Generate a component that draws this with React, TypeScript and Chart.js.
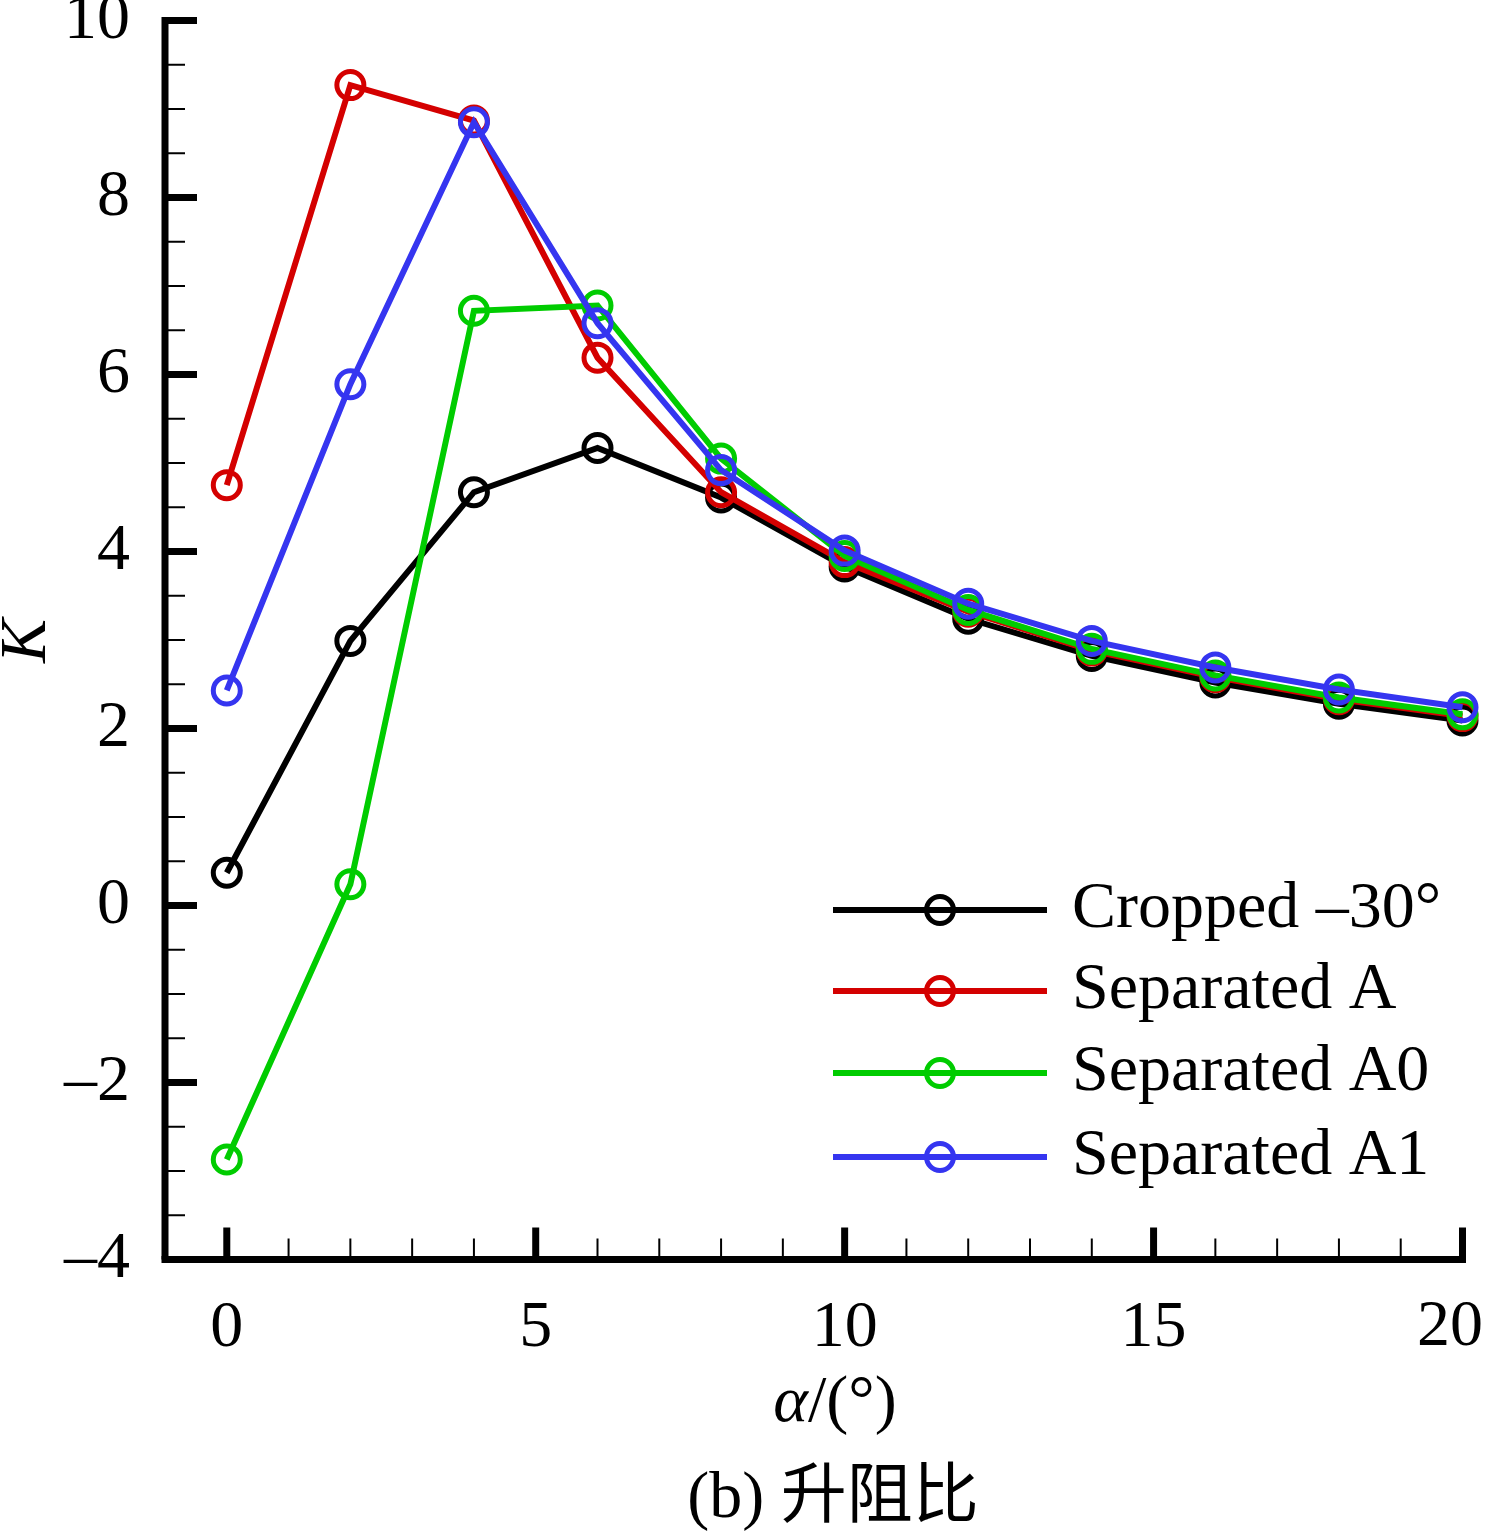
import React, { useEffect, useRef } from 'react';
import { Chart, registerables } from 'chart.js';

Chart.register(...registerables);

// angle of attack (deg)
const alpha = [0, 2, 4, 6, 8, 10, 12, 14, 16, 18, 20];

// lift-to-drag ratio K for each configuration
const croppedK = [0.37, 2.99, 4.67, 5.17, 4.61, 3.83, 3.24, 2.82, 2.52, 2.28, 2.09];
const separatedA = [4.75, 9.27, 8.87, 6.19, 4.67, 3.88, 3.32, 2.88, 2.58, 2.33, 2.14];
const separatedA0 = [-2.87, 0.24, 6.72, 6.78, 5.05, 3.95, 3.34, 2.9, 2.6, 2.35, 2.16];
const separatedA1 = [2.43, 5.89, 8.85, 6.58, 4.92, 4.01, 3.41, 2.99, 2.69, 2.44, 2.24];

const seriesNames = ['Cropped \u201330\u00b0', 'Separated A', 'Separated A0', 'Separated A1'];
const seriesColors = ['#000000', '#d40000', '#00cc00', '#3535f0'];

const xMajorTicks = [0, 5, 10, 15, 20];
const yMajorTicks = [-4, -2, 0, 2, 4, 6, 8, 10];
const xMinorStep = 1;
const yMinorStep = 0.5;

const SERIF = '"Liberation Serif", "Times New Roman", serif';
const FONT_SIZE = 66;

const fmt = (v: number) => (v < 0 ? '\u2013' + Math.abs(v) : String(v));
const lastX = xMajorTicks[xMajorTicks.length - 1];

// axis lines and inward ticks
const axesPlugin = {
  id: 'axesPlugin',
  afterDraw(chart: any) {
    const { ctx, chartArea: a } = chart;
    const xs = chart.scales.x;
    const ys = chart.scales.y;
    const seg = (x1: number, y1: number, x2: number, y2: number) => {
      ctx.beginPath();
      ctx.moveTo(x1, y1);
      ctx.lineTo(x2, y2);
      ctx.stroke();
    };
    ctx.save();
    ctx.strokeStyle = '#000';
    ctx.lineCap = 'butt';

    ctx.lineWidth = 2;
    for (let v = Math.ceil(xs.min); v <= xs.max; v += xMinorStep) {
      if (v === xs.min || xMajorTicks.includes(v)) continue;
      const px = xs.getPixelForValue(v);
      seg(px, a.bottom, px, a.bottom - 21);
    }
    for (let v = ys.min; v <= ys.max + 1e-9; v += yMinorStep) {
      if (yMajorTicks.includes(v)) continue;
      const py = ys.getPixelForValue(v);
      seg(a.left, py, a.left + 20, py);
    }

    ctx.lineWidth = 7;
    xMajorTicks.forEach((v) => {
      const px = xs.getPixelForValue(v);
      seg(px, a.bottom, px, a.bottom - 32);
    });
    yMajorTicks.forEach((v) => {
      const py = ys.getPixelForValue(v);
      seg(a.left, py, a.left + 32, py);
    });

    seg(a.left, a.top - 3.5, a.left, a.bottom);
    seg(a.left - 3.5, a.bottom, a.right + 3.5, a.bottom);

    // last x label, kept inside the canvas
    ctx.fillStyle = '#000';
    ctx.font = `${FONT_SIZE}px ${SERIF}`;
    ctx.textAlign = 'right';
    ctx.textBaseline = 'top';
    const lbl = fmt(lastX);
    const w = ctx.measureText(lbl).width;
    const px = Math.min(xs.getPixelForValue(lastX) + w / 2, chart.width - 2);
    ctx.fillText(lbl, px, a.bottom + 35);
    ctx.restore();
  },
};

// axis titles, caption and legend
const textPlugin = {
  id: 'textPlugin',
  afterDraw(chart: any) {
    const { ctx } = chart;
    ctx.save();
    ctx.fillStyle = '#000';

    // K (rotated)
    ctx.save();
    ctx.translate(45, 641);
    ctx.rotate(-Math.PI / 2);
    ctx.font = `italic ${FONT_SIZE}px ${SERIF}`;
    ctx.textAlign = 'center';
    ctx.textBaseline = 'alphabetic';
    ctx.fillText('K', 0, 0);
    ctx.restore();

    // alpha/(deg)
    ctx.textBaseline = 'alphabetic';
    ctx.textAlign = 'left';
    ctx.font = `italic ${FONT_SIZE}px ${SERIF}`;
    const wa = ctx.measureText('\u03b1').width;
    ctx.font = `${FONT_SIZE}px ${SERIF}`;
    const rest = '/(\u00b0)';
    const wr = ctx.measureText(rest).width;
    const x0 = 835 - (wa + wr) / 2;
    ctx.font = `italic ${FONT_SIZE}px ${SERIF}`;
    ctx.fillText('\u03b1', x0, 1421);
    ctx.font = `${FONT_SIZE}px ${SERIF}`;
    ctx.fillText(rest, x0 + wa, 1421);

    // caption
    ctx.font = `${FONT_SIZE}px "Liberation Serif", "Noto Sans CJK SC", serif`;
    ctx.textAlign = 'center';
    ctx.fillText('(b) \u5347\u963b\u6bd4', 833, 1517);

    // legend
    const legendY = [910, 991, 1073, 1157];
    seriesNames.forEach((name, i) => {
      const y = legendY[i];
      ctx.strokeStyle = seriesColors[i];
      ctx.lineWidth = 6;
      ctx.beginPath();
      ctx.moveTo(833, y);
      ctx.lineTo(1047, y);
      ctx.stroke();
      ctx.lineWidth = 5;
      ctx.beginPath();
      ctx.arc(940, y, 13.5, 0, Math.PI * 2);
      ctx.stroke();
      ctx.fillStyle = '#000';
      ctx.font = `${FONT_SIZE}px ${SERIF}`;
      ctx.textAlign = 'left';
      ctx.textBaseline = 'middle';
      ctx.fillText(name, 1072, y);
    });
    ctx.restore();
  },
};

const App: React.FC = () => {
  const chartRef = useRef<HTMLCanvasElement | null>(null);

  useEffect(() => {
    if (!chartRef.current) return;
    const ctx = chartRef.current.getContext('2d');
    const series = [croppedK, separatedA, separatedA0, separatedA1];

    const chartInstance = new Chart(ctx as any, {
      type: 'line',
      data: {
        datasets: series.map((vals, i) => ({
          label: seriesNames[i],
          data: alpha.map((a, j) => ({ x: a, y: vals[j] })),
          borderColor: seriesColors[i],
          borderWidth: 6,
          pointBorderColor: seriesColors[i],
          pointBackgroundColor: 'rgba(0,0,0,0)',
          pointRadius: 13.5,
          pointBorderWidth: 5,
          pointHoverRadius: 13.5,
          tension: 0,
          clip: false,
          order: series.length - i,
        })),
      },
      options: {
        animation: false,
        responsive: false,
        layout: { padding: { left: 0, top: 20.5, right: 22.5, bottom: 0 } },
        plugins: {
          legend: { display: false },
          tooltip: { enabled: false },
        },
        scales: {
          x: {
            type: 'linear',
            min: -1,
            max: 20,
            grid: { display: false, drawTicks: false },
            border: { display: false },
            ticks: {
              color: '#000',
              font: { family: SERIF, size: FONT_SIZE },
              padding: 30,
              maxRotation: 0,
              autoSkip: false,
              // the last label is drawn by axesPlugin so it stays on the canvas
              callback: (v: any) => (Number(v) === lastX ? '' : fmt(Number(v))),
            },
            afterBuildTicks: (s: any) => {
              s.ticks = xMajorTicks.map((v) => ({ value: v }));
            },
            afterFit: (s: any) => {
              s.height = 272.5;
              s.paddingLeft = 0;
              s.paddingRight = 0;
            },
          },
          y: {
            type: 'linear',
            min: -4,
            max: 10,
            grid: { display: false, drawTicks: false },
            border: { display: false },
            ticks: {
              color: '#000',
              font: { family: SERIF, size: FONT_SIZE },
              padding: 35,
              autoSkip: false,
              callback: (v: any) => fmt(Number(v)),
            },
            afterBuildTicks: (s: any) => {
              s.ticks = yMajorTicks.map((v) => ({ value: v }));
            },
            afterFit: (s: any) => {
              s.width = 165;
              s.paddingTop = 0;
              s.paddingBottom = 0;
            },
          },
        },
      } as any,
      plugins: [axesPlugin, textPlugin],
    });

    return () => {
      chartInstance.destroy();
    };
  }, []);

  return (
    <div style={{ position: 'absolute', left: 0, top: 0, width: 1485, height: 1532, background: '#fff' }}>
      <canvas ref={chartRef} width={1485} height={1532} />
    </div>
  );
};

export default App;
